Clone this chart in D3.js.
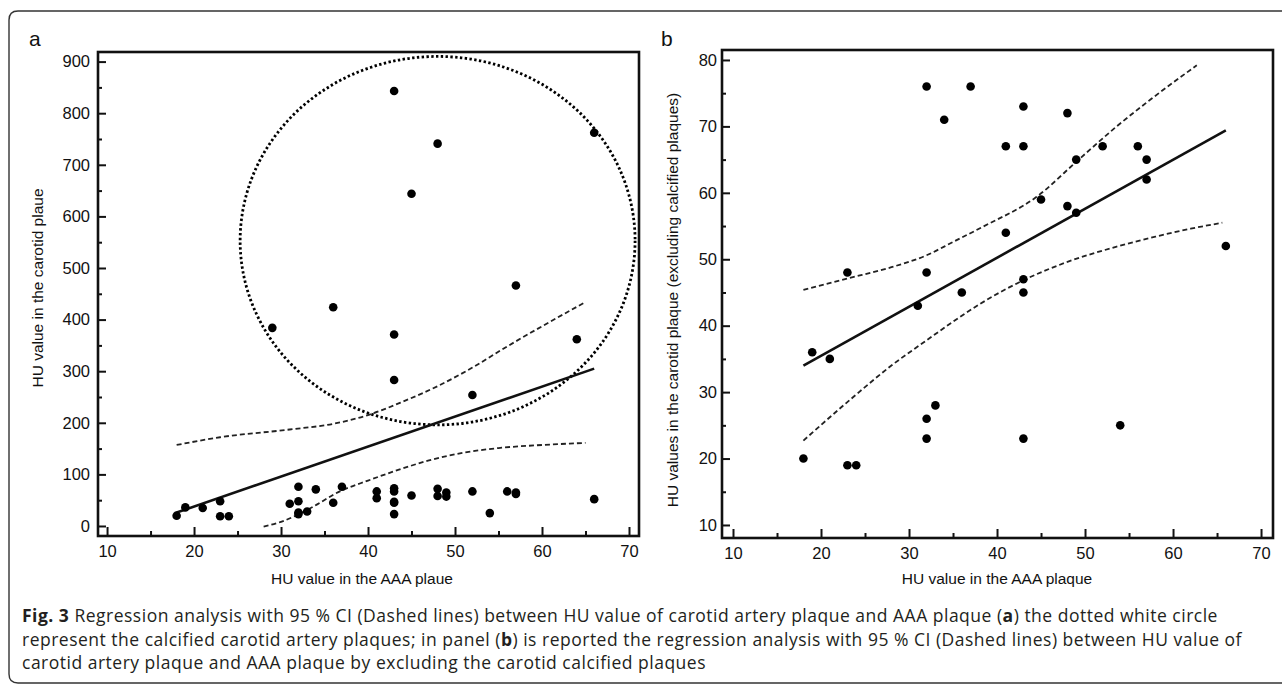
<!DOCTYPE html>
<html>
<head>
<meta charset="utf-8">
<script src="https://cdn.jsdelivr.net/npm/d3@7"></script>
<style>
  body { margin: 0; background: #fff; }
  .tick text { font-family: "Liberation Sans", Arial, sans-serif; font-size: 16.5px; fill: #111; }
  .axis-title { font-family: "Liberation Sans", Arial, sans-serif; font-size: 15.5px; fill: #111; }
  .panel-label { font-family: "Liberation Sans", Arial, sans-serif; font-size: 21px; fill: #111; }
  .caption { font-family: "Open Sans", sans-serif; font-size: 17.5px; letter-spacing: 0.5px; fill: #231f20; }
</style>
</head>
<body>
<svg id="figure" width="1282" height="684"></svg>
<script>
// calcified carotid plaques (only in panel a)
const calcifiedX = [29, 36, 43, 43, 43, 45, 48, 52, 57, 64, 66];
const calcifiedY = [384, 424, 843, 371, 283, 644, 741, 254, 466, 362, 762];

// non calcified plaques (panel b, also the low cluster of panel a)
const plaqueX = [18, 19, 21, 23, 23, 24, 31, 32, 32, 32, 32, 33, 34, 36, 37, 41, 41,
  43, 43, 43, 43, 43, 45, 48, 48, 49, 49, 52, 54, 56, 57, 57, 66];
const plaqueY = [20, 36, 35, 48, 19, 19, 43, 76, 48, 26, 23, 28, 71, 45, 76, 67, 54,
  73, 67, 47, 45, 23, 59, 72, 58, 65, 57, 67, 25, 67, 65, 62, 52];

// regression lines
const fitAX = [18, 66];
const fitAY = [26, 305];
const fitBX = [18, 66];
const fitBY = [34, 69.4];

// 95 % CI curves, [x, y]
const ciUpperA = [[18, 157], [23, 172], [31, 187], [36, 198], [40, 215], [44, 241],
  [48, 271], [52, 307], [56, 348], [60, 387], [65, 434]];
const ciLowerA = [[28, -1], [30, 8], [33, 31], [37, 69], [40, 88], [43, 106],
  [47, 127], [51, 142], [55, 151], [60, 157], [65, 161]];
const ciUpperB = [[18, 45.4], [23, 47.1], [28, 48.8], [32, 50.6], [35, 52.6],
  [38.4, 54.9], [44.5, 59.4], [49.2, 64.9], [53.6, 70], [57.4, 74], [62.7, 79.2]];
const ciLowerB = [[18, 22.7], [23.7, 29.3], [28, 34], [32, 37.8], [35, 40.6],
  [38.1, 43.3], [43.1, 46.9], [48, 49.6], [53.6, 51.9], [58, 53.4], [62, 54.6], [65.6, 55.5]];

// dotted ring around the calcified plaques (data units)
const ringCenter = [48, 553];
const ringRadius = [22.7, 357];

const xTicks = [10, 20, 30, 40, 50, 60, 70];
const xMinorTicks = [15, 25, 35, 45, 55, 65];
const yTicksA = [0, 100, 200, 300, 400, 500, 600, 700, 800, 900];
const yMinorTicksA = [50, 150, 250, 350, 450, 550, 650, 750, 850];
const yTicksB = [10, 20, 30, 40, 50, 60, 70, 80];
const yMinorTicksB = [15, 25, 35, 45, 55, 65, 75];

const captionLines = [
  [["Fig. 3", true], [" Regression analysis with 95 % CI (Dashed lines) between HU value of carotid artery plaque and AAA plaque (", false], ["a", true], [") the dotted white circle", false]],
  [["represent the calcified carotid artery plaques; in panel (", false], ["b", true], [") is reported the regression analysis with 95 % CI (Dashed lines) between HU value of", false]],
  [["carotid artery plaque and AAA plaque by excluding the carotid calcified plaques", false]],
];

const SVG = d3.select("#figure");

// outer rounded box
SVG.append("path")
  .attr("d", "M1290,11 H18 Q9,11 9,20 V674 Q9,683 18,683 H1290")
  .attr("fill", "none")
  .attr("stroke", "#333")
  .attr("stroke-width", 1.4);

const drawPanel = (p) => {
  const g = SVG.append("g").attr("id", "panel_" + p.label);
  const xScale = d3.scaleLinear().domain(p.xDomain).range([p.left, p.right]);
  const yScale = d3.scaleLinear().domain(p.yDomain).range([p.bottom, p.top]);

  // ticks, pointing inwards
  g.append("g")
    .attr("transform", "translate(0," + p.bottom + ")")
    .call(d3.axisBottom(xScale).tickValues(xTicks).tickSizeInner(-9).tickSizeOuter(0).tickPadding(9))
    .call((a) => a.select(".domain").remove());
  g.append("g")
    .attr("transform", "translate(0," + p.bottom + ")")
    .call(d3.axisBottom(xScale).tickValues(xMinorTicks).tickSizeInner(-5).tickSizeOuter(0).tickFormat(""))
    .call((a) => a.select(".domain").remove());
  g.append("g")
    .attr("transform", "translate(" + p.left + ",0)")
    .call(d3.axisLeft(yScale).tickValues(p.yTicks).tickSizeInner(-8).tickSizeOuter(0).tickPadding(p.yPad))
    .call((a) => a.select(".domain").remove());
  g.append("g")
    .attr("transform", "translate(" + p.left + ",0)")
    .call(d3.axisLeft(yScale).tickValues(p.yMinor).tickSizeInner(-4).tickSizeOuter(0).tickFormat(""))
    .call((a) => a.select(".domain").remove());
  g.selectAll(".tick line").attr("stroke", "#111").attr("stroke-width", 2);

  // frame
  g.append("rect")
    .attr("x", p.left)
    .attr("y", p.top)
    .attr("width", p.right - p.left)
    .attr("height", p.bottom - p.top)
    .attr("fill", "none")
    .attr("stroke", "#111")
    .attr("stroke-width", 2.6);

  if (p.ring) {
    g.append("ellipse")
      .attr("cx", xScale(ringCenter[0]))
      .attr("cy", yScale(ringCenter[1]))
      .attr("rx", xScale(ringCenter[0] + ringRadius[0]) - xScale(ringCenter[0]))
      .attr("ry", yScale(ringCenter[1] - ringRadius[1]) - yScale(ringCenter[1]))
      .attr("fill", "none")
      .attr("stroke", "#000")
      .attr("stroke-width", 2.8)
      .style("stroke-dasharray", "2.4,2.4");
  }

  const ciLine = d3.line()
    .x((d) => xScale(d[0]))
    .y((d) => yScale(d[1]))
    .curve(d3.curveMonotoneX);
  g.selectAll(".ci")
    .data(p.ci)
    .join("path")
    .attr("class", "ci")
    .attr("d", ciLine)
    .attr("fill", "none")
    .attr("stroke", "#222")
    .attr("stroke-width", 1.8)
    .style("stroke-dasharray", "5,3");

  g.append("line")
    .attr("x1", xScale(p.fitX[0]))
    .attr("y1", yScale(p.fitY[0]))
    .attr("x2", xScale(p.fitX[1]))
    .attr("y2", yScale(p.fitY[1]))
    .attr("stroke", "#111")
    .attr("stroke-width", 2.6);

  g.selectAll("circle")
    .data(p.points)
    .join("circle")
    .attr("cx", (d) => xScale(d[0]))
    .attr("cy", (d) => yScale(d[1]))
    .attr("r", 4.3)
    .attr("fill", "#000");

  g.append("text")
    .attr("class", "axis-title")
    .attr("text-anchor", "middle")
    .attr("x", p.xTitleX)
    .attr("y", 584)
    .text(p.xTitle);
  g.append("text")
    .attr("class", "axis-title")
    .attr("text-anchor", "middle")
    .attr("transform", "translate(" + p.yTitleX + "," + p.yTitleY + ") rotate(-90)")
    .text(p.yTitle);
  g.append("text")
    .attr("class", "panel-label")
    .attr("x", p.labelX)
    .attr("y", 46)
    .text(p.label);
};

const pointsB = plaqueX.map((x, i) => [x, plaqueY[i]]);
const pointsA = pointsB.concat(calcifiedX.map((x, i) => [x, calcifiedY[i]]));

drawPanel({
  label: "a", labelX: 29,
  left: 98, top: 52, right: 639, bottom: 536,
  xDomain: [8.96, 71.15], yDomain: [-19.4, 918.6],
  yTicks: yTicksA, yMinor: yMinorTicksA, yPad: 8,
  points: pointsA, fitX: fitAX, fitY: fitAY, ci: [ciUpperA, ciLowerA], ring: true,
  xTitle: "HU value in the AAA plaue", xTitleX: 362,
  yTitle: "HU value in the carotid plaue", yTitleX: 43, yTitleY: 288,
});

drawPanel({
  label: "b", labelX: 661,
  left: 722, top: 50, right: 1273, bottom: 538,
  xDomain: [8.75, 71.36], yDomain: [8.04, 81.5],
  yTicks: yTicksB, yMinor: yMinorTicksB, yPad: 5,
  points: pointsB, fitX: fitBX, fitY: fitBY, ci: [ciUpperB, ciLowerB], ring: false,
  xTitle: "HU value in the AAA plaque", xTitleX: 997,
  yTitle: "HU values in the carotid plaque (excluding calcified plaques)", yTitleX: 678, yTitleY: 300,
});

// caption
captionLines.forEach((line, i) => {
  const t = SVG.append("text")
    .attr("class", "caption")
    .attr("x", 22)
    .attr("y", 622 + i * 23.5);
  line.forEach((part) => {
    t.append("tspan")
      .attr("font-weight", part[1] ? "bold" : "normal")
      .text(part[0]);
  });
});
</script>
</body>
</html>
